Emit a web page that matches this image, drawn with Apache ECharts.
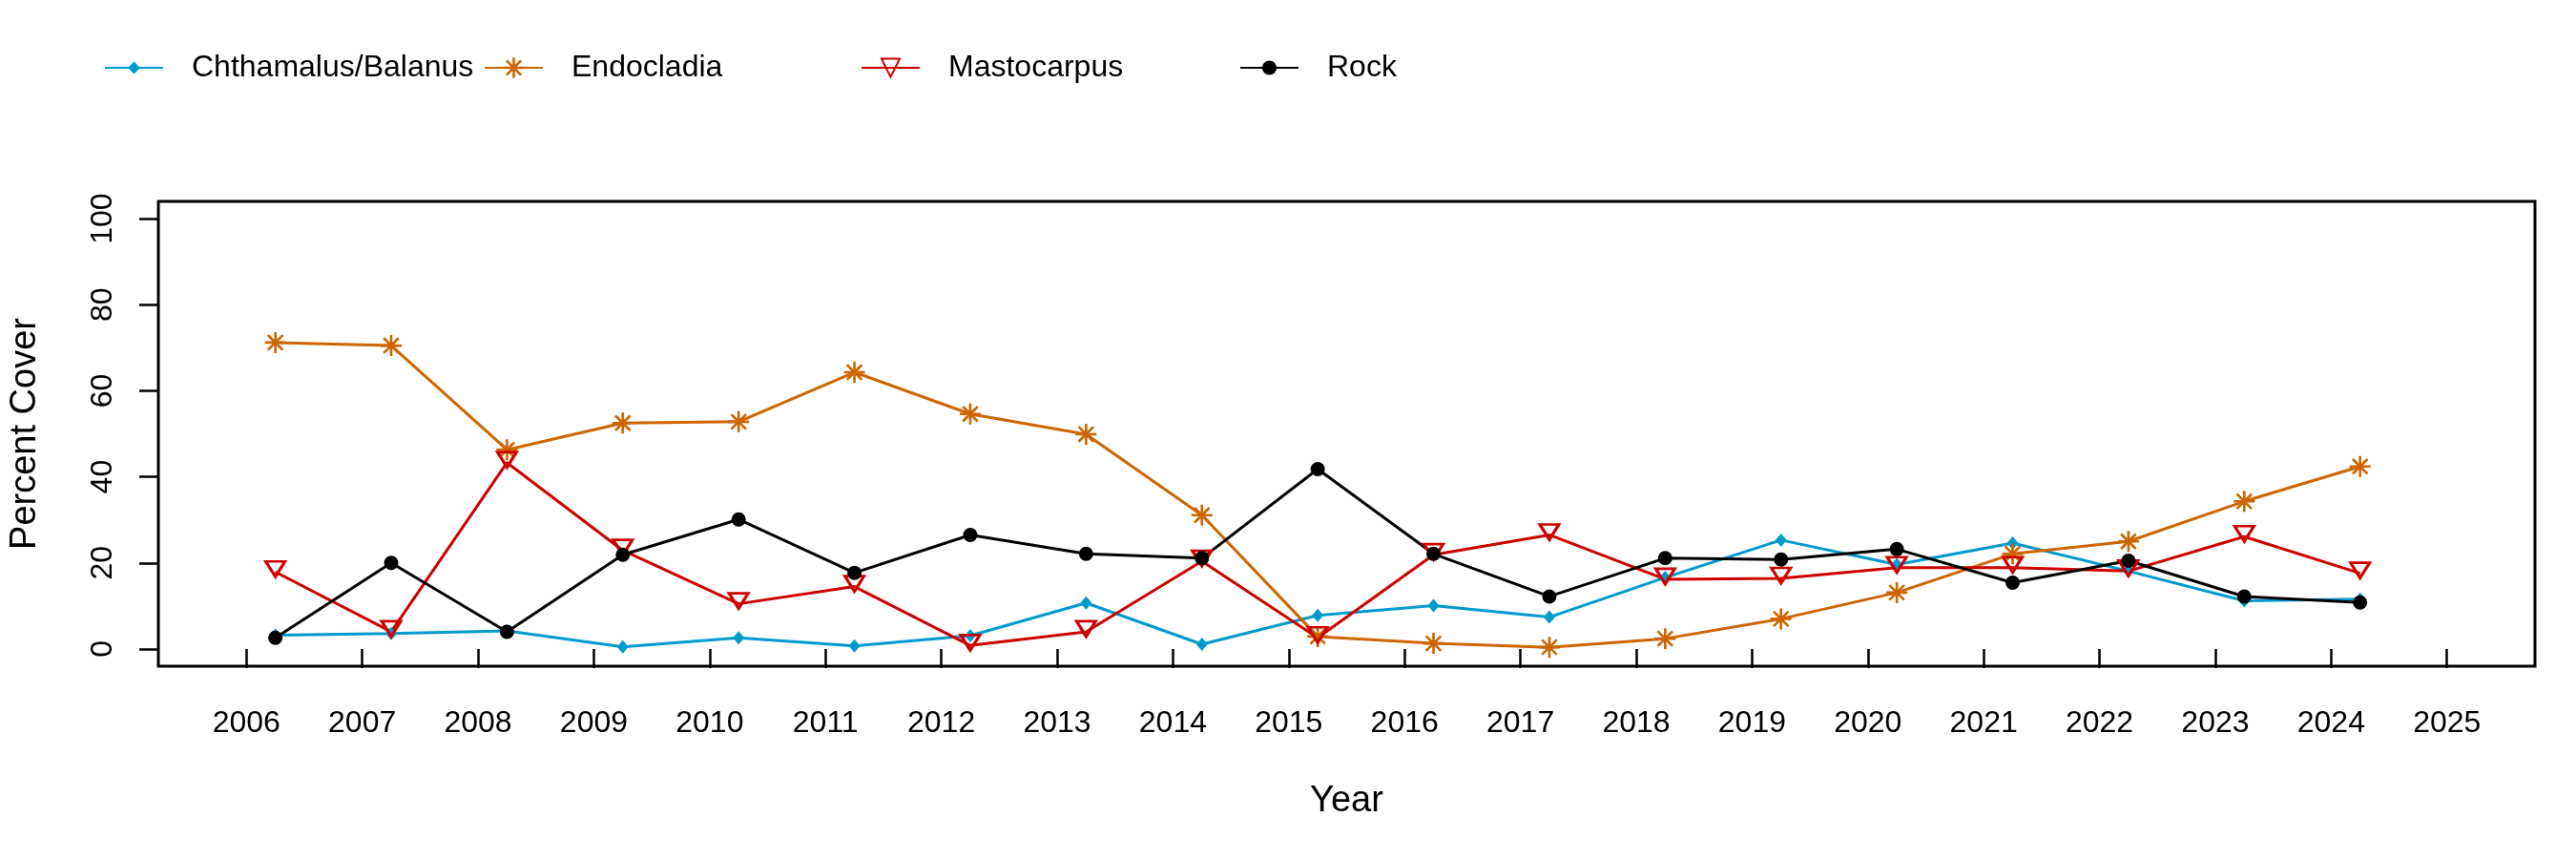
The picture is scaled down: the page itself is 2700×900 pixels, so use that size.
<!DOCTYPE html>
<html>
<head>
<meta charset="utf-8">
<script src="https://cdn.jsdelivr.net/npm/echarts@6/dist/echarts.min.js"></script>
<style>html,body{margin:0;padding:0;background:#fff}#c{width:2700px;height:900px}</style>
</head>
<body>
<div id="c"></div>
<script>
// ---- data ----
const surveyDates = [2006.25,2007.25,2008.25,2009.25,2010.25,2011.25,2012.25,2013.25,2014.25,2015.25,2016.25,2017.25,2018.25,2019.25,2020.25,2021.25,2022.25,2023.25,2024.25];
const chthamalus = [3.2,3.6,4.2,0.5,2.6,0.7,3.1,10.7,1.1,7.8,10.1,7.4,16.6,25.3,19.6,24.6,18.1,11.2,11.6];
const endocladia = [71.2,70.5,46.3,52.5,52.8,64.3,54.6,49.9,31.1,2.9,1.3,0.4,2.4,7.0,13.1,22.1,25.0,34.3,42.4];
const mastocarpus = [17.9,4.0,43.3,22.9,10.5,14.5,0.8,4.0,20.4,2.6,21.9,26.5,16.2,16.4,18.9,18.9,18.1,26.1,17.6];
const rock = [2.6,20.0,4.0,21.9,30.1,17.7,26.5,22.1,21.1,41.8,22.1,12.2,21.1,20.8,23.2,15.4,20.5,12.2,10.8];
const seriesNames = ['Chthamalus/Balanus','Endocladia','Mastocarpus','Rock'];
const yearTicks = [2006,2007,2008,2009,2010,2011,2012,2013,2014,2015,2016,2017,2018,2019,2020,2021,2022,2023,2024,2025];
const coverTicks = [0,20,40,60,80,100];

// ---- styling ----
const FONT = 'Liberation Sans, Arial, sans-serif';
const C_BLUE = '#009ACD', C_ORANGE = '#CD6600', C_RED = '#CD0000', C_BLACK = '#000000';
const ASTERISK = 'path://M0,44L100,44L100,56L0,56Z M44,0L56,0L56,100L44,100Z M18.88,10.4L89.6,81.12L81.12,89.6L10.4,18.88Z M81.12,10.4L89.6,18.88L18.88,89.6L10.4,81.12Z';

function pts(vals){ return vals.map((v,i)=>[surveyDates[i], v]); }

const lineW = 3;
const series = [
  {name: seriesNames[0], data: pts(chthamalus), symbol:'diamond', symbolSize:[12,14],
   itemStyle:{color:C_BLUE}, lineStyle:{color:C_BLUE, width:lineW}},
  {name: seriesNames[1], data: pts(endocladia), symbol:ASTERISK, symbolSize:22,
   itemStyle:{color:C_ORANGE}, lineStyle:{color:C_ORANGE, width:lineW}},
  {name: seriesNames[2], data: pts(mastocarpus), symbol:'triangle', symbolRotate:180, symbolSize:[20,16], symbolOffset:[0,-3],
   itemStyle:{color:'rgba(255,255,255,0)', borderColor:C_RED, borderWidth:3}, lineStyle:{color:C_RED, width:lineW}},
  {name: seriesNames[3], data: pts(rock), symbol:'circle', symbolSize:15,
   itemStyle:{color:C_BLACK}, lineStyle:{color:C_BLACK, width:lineW}}
].map(s=>Object.assign({type:'line', showSymbol:true, showAllSymbol:true, animation:false, emphasis:{disabled:true}}, s));

const legendLefts = [104, 502, 897, 1294];
const legendIconH = [16, 27, 24, 19];
const legends = seriesNames.map((n,i)=>({
  data:[n], left: legendLefts[i], top: 50, orient:'horizontal',
  itemWidth: 61, itemHeight: legendIconH[i], selectedMode:false,
  textStyle:{fontFamily:FONT, fontSize:32, color:'#000', padding:[0,0,0,25]}
}));

const chart = echarts.init(document.getElementById('c'), null, {renderer:'canvas'});
chart.setOption({
  animation:false,
  backgroundColor:'#fff',
  legend: legends,
  grid:{left:162, right:43, top:211, bottom:202, show:true, borderColor:'#000', borderWidth:3, backgroundColor:'transparent'},
  xAxis:{
    type:'value', min:2005.24, max:2025.76,
    name:'Year', nameLocation:'middle', nameGap:123,
    nameTextStyle:{fontFamily:FONT, fontSize:38, color:'#000'},
    axisLine:{show:false},
    splitLine:{show:false},
    axisTick:{show:true, length:20, lineStyle:{color:'#000', width:2.5}, customValues: yearTicks},
    axisLabel:{fontFamily:FONT, fontSize:32, color:'#000', margin:44, customValues: yearTicks, formatter: v=>String(v)}
  },
  yAxis:{
    type:'value', min:-4, max:104,
    name:'Percent Cover', nameLocation:'middle', nameGap:120, nameRotate:90,
    nameTextStyle:{fontFamily:FONT, fontSize:38, color:'#000'},
    axisLine:{show:false},
    splitLine:{show:false},
    axisTick:{show:true, length:20, lineStyle:{color:'#000', width:2.5}, customValues: coverTicks},
    axisLabel:{fontFamily:FONT, fontSize:32, color:'#000', margin:42, rotate:90, customValues: coverTicks, formatter: v=>String(v)}
  },
  series: series
});
</script>
</body>
</html>
